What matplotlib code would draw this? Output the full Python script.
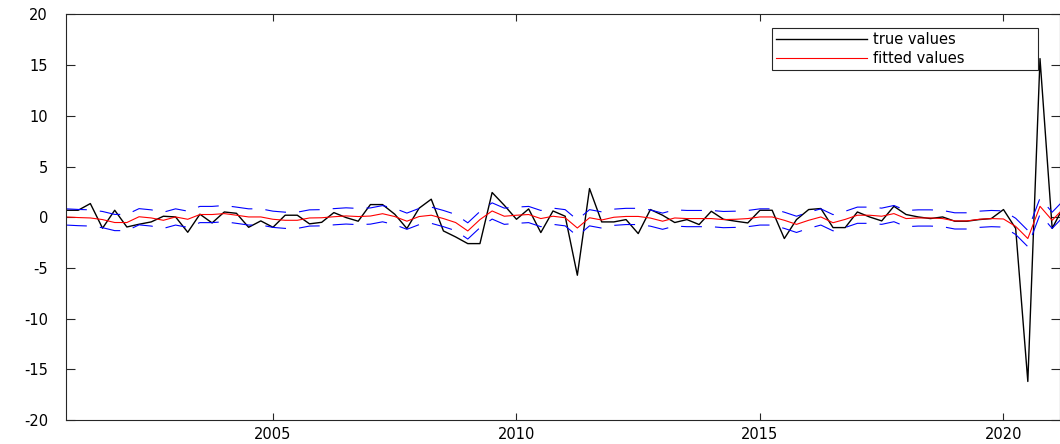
import matplotlib
matplotlib.use('Agg')
import matplotlib.pyplot as plt
import numpy as np

# ---- data (quarterly, starting 2000 Q4) ----
start_year = 2000.75
quarter_step = 0.25

true_values = [0.69, 0.69, 1.35, -1.08, 0.69, -0.96, -0.69, -0.46, 0.10, 0.03,
               -1.48, 0.30, -0.56, 0.52, 0.39, -0.99, -0.36, -0.99, 0.20, 0.20,
               -0.65, -0.50, 0.46, -0.03, -0.39, 1.25, 1.25, 0.30, -1.11, 0.89,
               1.78, -1.35, -1.94, -2.60, -2.60, 2.44, 1.18, -0.20, 0.82, -1.51,
               0.62, 0.10, -5.72, 2.83, -0.46, -0.46, -0.23, -1.61, 0.76, 0.20,
               -0.52, -0.23, -0.72, 0.59, -0.20, -0.39, -0.56, 0.69, 0.69, -2.10,
               -0.23, 0.76, 0.86, -1.02, -1.02, 0.52, 0.03, -0.36, 1.08, 0.27,
               0.03, -0.13, 0.03, -0.39, -0.39, -0.23, -0.13, 0.76, -1.10, -16.20,
               15.65, -1.10, 1.20]

fitted_values = [0.03, -0.03, -0.07, -0.23, -0.52, -0.52, 0.05, -0.07, -0.30, 0.03,
                 -0.20, 0.27, 0.27, 0.36, 0.20, 0.03, 0.03, -0.20, -0.30, -0.30,
                 -0.07, -0.05, 0.05, 0.13, 0.07, 0.12, 0.35, 0.07, -0.39, 0.07,
                 0.20, -0.13, -0.52, -1.35, -0.23, 0.62, 0.10, 0.20, 0.27, -0.13,
                 0.10, -0.05, -1.06, -0.05, -0.27, 0.00, 0.08, 0.08, -0.08, -0.39,
                 -0.07, -0.13, -0.13, -0.13, -0.23, -0.20, -0.13, 0.03, 0.03, -0.30,
                 -0.70, -0.30, 0.03, -0.54, -0.21, 0.20, 0.20, 0.10, 0.36, -0.13,
                 -0.07, -0.07, -0.13, -0.36, -0.36, -0.20, -0.13, -0.17, -0.90, -2.10,
                 1.08, -0.30, 0.95]

band_halfwidth = 0.8

x_ticks = [2005, 2010, 2015, 2020]
y_ticks = [-20, -15, -10, -5, 0, 5, 10, 15, 20]
legend_labels = ['true values', 'fitted values']

# ---- derived ----
t = start_year + quarter_step * np.arange(len(true_values))
fitted = np.array(fitted_values)
upper = fitted + band_halfwidth
lower = fitted - band_halfwidth

plt.rcParams['font.family'] = ['DejaVu Sans']
plt.rcParams['lines.scale_dashes'] = False

W, H = 1060, 444
fig = plt.figure(figsize=(W / 100, H / 100), dpi=100)
ax = fig.add_axes([66 / W, 24 / H, 994 / W, 405.5 / H])

ax.plot(t, true_values, color='k', lw=1.0, label=legend_labels[0])
ax.plot(t, fitted, color='#ff0000', lw=0.8, label=legend_labels[1])
ax.plot(t, upper, color='#0000ff', lw=0.8, dashes=(15, 9.4))
ax.plot(t, lower, color='#0000ff', lw=0.8, dashes=(15, 9.4))

ax.set_xlim(start_year, start_year + 994 / 48.7)
ax.set_ylim(-20, 20)
ax.set_xticks(x_ticks)
ax.set_yticks(y_ticks)
ax.set_yticklabels([str(v) for v in y_ticks])

for s in ax.spines.values():
    s.set_linewidth(0.8)
    s.set_color('#262626')

ax.tick_params(axis='both', direction='in', top=True, right=True,
               labelsize=10.5, colors='#262626', labelcolor='k', width=0.8)
ax.tick_params(axis='y', length=6.5, pad=13)
ax.tick_params(axis='x', length=5, pad=5)

leg = ax.legend(loc='upper left', bbox_to_anchor=(0.710, 0.967, 0.2676, 0.0),
                mode='expand', handlelength=6.2, handletextpad=0.45,
                borderpad=0.3, labelspacing=0.25, fancybox=False,
                edgecolor='#262626', framealpha=1, fontsize=10.5,
                borderaxespad=0)
leg.get_frame().set_linewidth(0.8)

fig.savefig('out.png', dpi=100)
